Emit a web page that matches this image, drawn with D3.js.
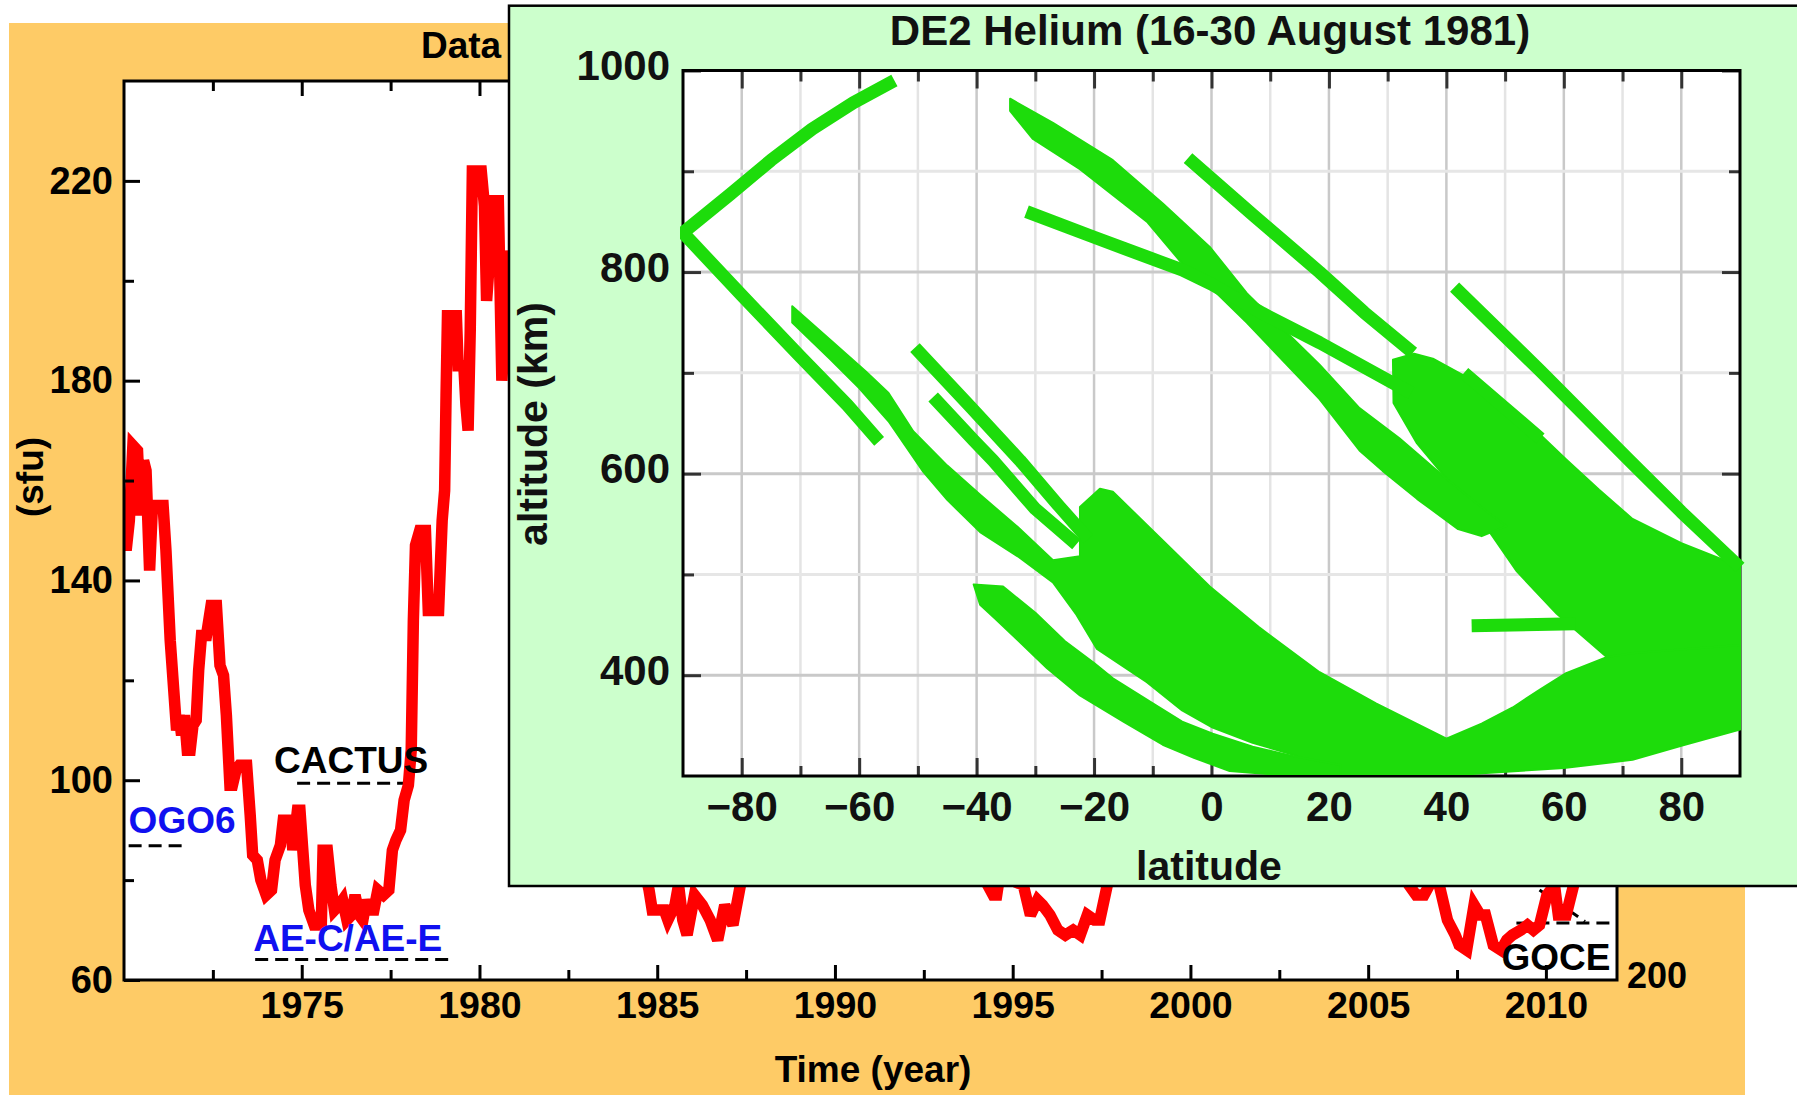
<!DOCTYPE html>
<html>
<head>
<meta charset="utf-8">
<script src="https://cdn.jsdelivr.net/npm/d3@7"></script>
<style>
  html, body { margin: 0; padding: 0; background: #ffffff; }
  svg { display: block; }
</style>
</head>
<body>
<svg id="chart" width="1797" height="1095"></svg>
<script>
// ---------------- Solar flux F10.7 (sfu) ----------------
const fluxYears = [
  1970.00,1970.06,1970.15,1970.25,1970.38,1970.46,1970.55,1970.62,1970.72,1970.80,
  1971.10,1971.18,1971.22,1971.30,1971.40,1971.48,1971.55,1971.62,1971.70,1971.78,
  1971.86,1971.94,1972.03,1972.10,1972.18,1972.32,1972.45,1972.60,1972.70,1972.80,
  1972.88,1972.93,1972.98,1973.05,1973.15,1973.25,1973.45,1973.55,1973.62,1973.75,
  1973.85,1974.00,1974.15,1974.25,1974.40,1974.48,1974.68,1974.75,1974.88,1974.95,
  1975.03,1975.10,1975.20,1975.35,1975.55,1975.60,1975.72,1975.82,1975.92,1976.05,
  1976.15,1976.27,1976.40,1976.50,1976.62,1976.72,1976.82,1976.92,1977.03,1977.14,
  1977.30,1977.45,1977.55,1977.65,1977.78,1977.88,1978.00,1978.08,1978.14,1978.20,
  1978.32,1978.48,1978.56,1978.85,1978.95,1979.02,1979.06,1979.10,1979.35,1979.40,
  1979.56,1979.62,1979.68,1979.74,1979.80,1980.05,1980.14,1980.20,1980.25,1980.35,
  1980.53,1980.58,1980.63,1980.70,1980.78,1980.90,1981.10,1981.30,1981.50,1981.70,
  1981.90,1982.10,1982.30,1982.50,1982.70,1982.90,1983.10,1983.30,1983.50,1983.70,
  1983.90,1984.10,1984.30,1984.50,1984.65,1984.77,1984.86,1985.20,1985.30,1985.50,
  1985.60,1985.72,1985.84,1986.05,1986.27,1986.49,1986.70,1986.90,1987.13,1987.34,
  1987.50,1987.80,1988.10,1988.40,1988.70,1989.00,1989.30,1989.60,1989.90,1990.20,
  1990.50,1990.80,1991.10,1991.40,1991.70,1992.00,1992.30,1992.60,1992.90,1993.20,
  1993.50,1993.80,1994.10,1994.30,1994.45,1994.55,1994.70,1994.95,1995.30,1995.50,
  1995.70,1995.84,1996.05,1996.27,1996.48,1996.70,1996.90,1997.10,1997.30,1997.45,
  1997.66,1997.90,1998.20,1998.50,1998.80,1999.10,1999.40,1999.70,2000.00,2000.30,
  2000.60,2000.90,2001.20,2001.50,2001.80,2002.10,2002.40,2002.70,2003.00,2003.30,
  2003.60,2003.90,2004.20,2004.50,2004.80,2005.10,2005.40,2005.70,2006.00,2006.15,
  2006.35,2006.57,2006.80,2007.00,2007.23,2007.45,2007.56,2007.77,2007.98,2008.15,
  2008.30,2008.52,2008.74,2008.90,2009.06,2009.30,2009.48,2009.65,2009.82,2010.03,
  2010.24,2010.35,2010.57,2010.78,2010.90,2011.00,2011.20
];
const fluxValues = [
  150,146,152,167,166,153,164,162,142,155,
  155,146,140,128,118,110,113,109,113,106,
  106,111,112,122,129,129,135,135,123,121,
  113,106,99,99,102,103,103,93,85,84,
  80,77,78,84,87,92,92,86,94,94,
  86,79,74,71,71,86,86,79,74,75,
  76,72,73,77,73,72,76,74,74,78,
  77,78,86,88,90,96,99,106,132,147,
  150,150,134,134,152,158,177,193,193,183,
  183,175,170,190,222,222,215,196,201,216,
  216,198,180,190,206,200,185,175,205,215,
  230,210,175,160,180,165,140,125,135,115,
  105,110,125,95,82,78,74,74,72,75,
  79,72,69,77,75,72,68,75,71,79,
  85,100,120,140,170,200,215,230,210,195,
  185,200,225,220,205,185,160,135,125,115,
  105,95,88,79,77,77,84,80,79,73,
  76,75,73,70,69,70,69,73,72,72,
  79,90,110,125,140,150,160,170,180,190,
  175,165,170,185,200,195,175,160,140,125,
  115,120,105,100,95,90,88,85,82,79,
  77,77,80,79,72,69,67,66,75,73,
  73,67,66,68,69,70,71,70,71,77,
  79,73,73,79,85,92,100
];

const yearTicks  = [1975, 1980, 1985, 1990, 1995, 2000, 2005, 2010];
const yearMinor  = [1972.5, 1977.5, 1982.5, 1987.5, 1992.5, 1997.5, 2002.5, 2007.5];
const fluxTicks  = [60, 100, 140, 180, 220];
const fluxMinor  = [80, 120, 160, 200];

// Satellite campaigns: flux level and time span of each dashed marker
const missionNames = ["OGO6", "CACTUS", "AE-C/AE-E", "GOCE"];
const missionStart = [1970.13, 1974.87, 1973.69, 2009.17];
const missionEnd   = [1971.75, 1978.10, 1979.13, 2011.96];
const missionFlux  = [86.9, 99.4, 64.1, 71.4];
// GOCE slanted segment (year, flux)
const goceSlant = [[2009.82, 78.0], [2011.10, 71.7]];

// ---------------- DE2 helium passes: [latitude, altitude km] ----------------
const latTicks = [-80, -60, -40, -20, 0, 20, 40, 60, 80];
const latMinor = [-70, -50, -30, -10, 10, 30, 50, 70];
const altTicks = [400, 600, 800, 1000];
const altMinor = [500, 700, 900];

const passV = [[-54,990],[-61,968],[-68,942],[-75,911],[-82,877],[-90,839],[-80,777],[-70,716],
               [-62,668],[-56.6,632]];
const passC = [[-50.5,725],[-41,666],[-32.6,613],[-26,568],[-21,535]];
const passD = [[-47.4,676],[-40.5,633],[-37.2,613],[-30,565],[-23,530]];
const passG = [[-31.5,860],[-20.2,835],[-11,815],[-4.9,802],[0,788],[8.7,759],[18.4,730],[29,696],[34,680]];
const passH = [[-4,913],[7,857],[18.4,800],[26,760],[34.3,720]];
const passI = [[41.4,785],[56,702],[71.2,613],[80,562],[90,507]];
const passJ = [[44.3,449],[62,451]];
const passK = [[43,700],[50,665],[56,635]];

const swathF = [[-34.3,972],[-27,948],[-16.8,911],[-8.3,868],[-0.3,825],[6,779],[18.4,708],[25.2,665],
                [32,635],[40,595],[47,562],[50.2,548],[46,538],[42,545],[35,575],[29.1,603],[25.2,623],
                [18.4,674],[6,750],[0.2,783],[-4.2,803],[-11,850],[-22.4,902],[-30.4,932],[-34.3,960]];
const swathSouth = [[-71.4,766],[-65,733],[-59,702],[-55,680],[-50.8,642],[-45,608],[-39.4,579],[-33,547],
                    [-27,514],[-22.4,518],[-22.4,567],[-19,585],[-16.8,582],[-8,532],[-0.3,488],[8,448],
                    [18.4,403],[28,372],[40,337],[46,352],[51.3,368],[56,386],[60.4,402],[67.3,418],
                    [72,425],[90,435],[90,346],[80,330],[71.7,316],[60,308],[46.8,303],[40,300],[18,300],
                    [14.5,320],[7,333],[0.2,348],[-5,365],[-11,393],[-19.5,426],[-23,460],[-27,492],
                    [-33,518],[-39.4,542],[-45,574],[-49.1,602],[-55,652],[-60,685],[-65,714],[-71.4,750]];
const swathNorth = [[30.9,713],[34.5,719],[37.7,714],[44,694],[49,674],[55,644],[60.4,614],[66,584],
                    [71.7,555],[80,531],[90,508],[90,430],[72,422],[67.3,418],[58.8,461],[52,503],
                    [46.8,547],[40,595],[35,630],[31,670]];
const swathLow = [[-40.5,490],[-35.5,488],[-30,462],[-25,434],[-20,412],[-16.8,397],[-10,372],[-5,354],
                  [0.2,342],[7,329],[14.5,319],[22,311],[22,300],[11.6,301],[3.1,305],[-3,318],
                  [-8.3,331],[-15,354],[-22.4,380],[-28,407],[-33,435],[-37,457],[-39.4,470]];

// ---------------- drawing ----------------
const svg = d3.select("#chart");
const FONT = "'Liberation Sans', Arial, Helvetica, sans-serif";
const ORANGE = "#fecb66", MINT = "#ccffcc", GREEN = "#1ddc0b", BLUE = "#1010f0";

svg.append("rect").attr("x", 9).attr("y", 23).attr("width", 1736).attr("height", 1072).attr("fill", ORANGE);

const main = { left: 124, right: 1617, top: 81, bottom: 980 };
const x = d3.scaleLinear().domain([1970, 2012]).range([main.left, main.right]);
const y = d3.scaleLinear().domain([60, 240]).range([main.bottom, main.top]);

svg.append("rect").attr("x", main.left).attr("y", main.top)
  .attr("width", main.right - main.left).attr("height", main.bottom - main.top).attr("fill", "#fff");

svg.append("text").attr("x", 421).attr("y", 58).text("Data")
  .attr("font-family", FONT).attr("font-weight", "bold").attr("font-size", 37).attr("fill", "#000");

function styleAxis(g, size) {
  g.select(".domain").remove();
  g.selectAll(".tick line").attr("stroke", "#000").attr("stroke-width", 3);
  g.selectAll(".tick text").attr("font-family", FONT).attr("font-weight", "bold")
    .attr("font-size", size).attr("fill", "#000");
}

svg.append("defs").append("clipPath").attr("id", "mainClip").append("rect")
  .attr("x", main.left).attr("y", main.top).attr("width", main.right - main.left).attr("height", main.bottom - main.top);

// dashed campaign markers
const dashLayer = svg.append("g");
missionNames.forEach((n, i) => {
  dashLayer.append("line")
    .attr("x1", x(missionStart[i])).attr("x2", x(missionEnd[i]))
    .attr("y1", y(missionFlux[i])).attr("y2", y(missionFlux[i]))
    .attr("stroke", "#000").attr("stroke-width", 3).attr("stroke-dasharray", "13 7");
});
dashLayer.append("path").attr("d", d3.line().x(d => x(d[0])).y(d => y(d[1]))(goceSlant))
  .attr("fill", "none").attr("stroke", "#000").attr("stroke-width", 3).attr("stroke-dasharray", "11 7");

// flux curve
const fluxData = fluxYears.map((yr, i) => [yr, fluxValues[i]]);
svg.append("path").datum(fluxData)
  .attr("clip-path", "url(#mainClip)")
  .attr("d", d3.line().x(d => x(d[0])).y(d => y(d[1])))
  .attr("fill", "none").attr("stroke", "#ff0000").attr("stroke-width", 11.5)
  .attr("stroke-linejoin", "miter").attr("stroke-miterlimit", 3);

// campaign labels
const labelColor = ["blue", "black", "blue", "black"];
const labelDx = [0, -23, -2, -15];
const labelDy = [-13, -10, -9, 47];
missionNames.forEach((n, i) => {
  svg.append("text").text(n)
    .attr("x", x(missionStart[i]) + labelDx[i]).attr("y", y(missionFlux[i]) + labelDy[i])
    .attr("font-family", FONT).attr("font-weight", "bold").attr("font-size", 37)
    .attr("fill", labelColor[i] === "blue" ? BLUE : "#000");
});

// axes
svg.append("g").attr("transform", `translate(0,${main.bottom})`)
  .call(d3.axisBottom(x).tickValues(yearTicks).tickSize(-15).tickPadding(11).tickFormat(d3.format("d")))
  .call(g => styleAxis(g, 37.5));
svg.append("g").attr("transform", `translate(0,${main.bottom})`)
  .call(d3.axisBottom(x).tickValues(yearMinor).tickSize(-10).tickFormat(""))
  .call(g => styleAxis(g, 37.5));
svg.append("g").attr("transform", `translate(0,${main.top})`)
  .call(d3.axisTop(x).tickValues(yearTicks).tickSize(-15).tickFormat(""))
  .call(g => styleAxis(g, 37.5));
svg.append("g").attr("transform", `translate(0,${main.top})`)
  .call(d3.axisTop(x).tickValues(yearMinor).tickSize(-10).tickFormat(""))
  .call(g => styleAxis(g, 37.5));
svg.append("g").attr("transform", `translate(${main.left},0)`)
  .call(d3.axisLeft(y).tickValues(fluxTicks).tickSize(-16).tickPadding(11))
  .call(g => styleAxis(g, 38));
svg.append("g").attr("transform", `translate(${main.left},0)`)
  .call(d3.axisLeft(y).tickValues(fluxMinor).tickSize(-10).tickFormat(""))
  .call(g => styleAxis(g, 38));

svg.append("rect").attr("x", main.left).attr("y", main.top)
  .attr("width", main.right - main.left).attr("height", main.bottom - main.top)
  .attr("fill", "none").attr("stroke", "#000").attr("stroke-width", 3);

svg.append("text").text("(sfu)")
  .attr("transform", "translate(30,477) rotate(-90)").attr("dy", "0.35em").attr("text-anchor", "middle")
  .attr("font-family", FONT).attr("font-weight", "bold").attr("font-size", 37).attr("fill", "#000");
svg.append("text").text("Time (year)")
  .attr("x", 873).attr("y", 1082).attr("text-anchor", "middle")
  .attr("font-family", FONT).attr("font-weight", "bold").attr("font-size", 37).attr("fill", "#000");
svg.append("text").text("200")
  .attr("x", 1627).attr("y", 988)
  .attr("font-family", FONT).attr("font-weight", "bold").attr("font-size", 36).attr("fill", "#000");

// ---------------- DE2 helium inset ----------------
const ins = { left: 683, right: 1740, top: 70.5, bottom: 776 };
const lx = d3.scaleLinear().domain([-90, 90]).range([ins.left, ins.right]);
const ly = d3.scaleLinear().domain([300, 1000]).range([ins.bottom, ins.top]);

svg.append("rect").attr("x", 509).attr("y", 5.7).attr("width", 1320).attr("height", 880.3)
  .attr("fill", MINT).attr("stroke", "#000").attr("stroke-width", 2.5);
svg.append("rect").attr("x", ins.left).attr("y", ins.top)
  .attr("width", ins.right - ins.left).attr("height", ins.bottom - ins.top).attr("fill", "#fff");

// grid
const grid = svg.append("g");
latMinor.forEach(v => grid.append("line").attr("x1", lx(v)).attr("x2", lx(v))
  .attr("y1", ins.top).attr("y2", ins.bottom).attr("stroke", "#e4e4e4").attr("stroke-width", 2.5));
latTicks.forEach(v => grid.append("line").attr("x1", lx(v)).attr("x2", lx(v))
  .attr("y1", ins.top).attr("y2", ins.bottom).attr("stroke", "#c9c9c9").attr("stroke-width", 2.5));
altMinor.forEach(v => grid.append("line").attr("x1", ins.left).attr("x2", ins.right)
  .attr("y1", ly(v)).attr("y2", ly(v)).attr("stroke", "#e6e6e6").attr("stroke-width", 3));
altTicks.filter(v => v < 1000).forEach(v => grid.append("line").attr("x1", ins.left).attr("x2", ins.right)
  .attr("y1", ly(v)).attr("y2", ly(v)).attr("stroke", "#c9c9c9").attr("stroke-width", 3));

function styleInset(g) {
  g.select(".domain").remove();
  g.selectAll(".tick line").attr("stroke", "#333").attr("stroke-width", 3);
  g.selectAll(".tick text").attr("font-family", FONT).attr("font-weight", "bold")
    .attr("font-size", 42).attr("fill", "#111");
}
svg.append("g").attr("transform", `translate(0,${ins.bottom})`)
  .call(d3.axisBottom(lx).tickValues(latTicks).tickSize(-18).tickPadding(15)).call(styleInset);
svg.append("g").attr("transform", `translate(0,${ins.bottom})`)
  .call(d3.axisBottom(lx).tickValues(latMinor).tickSize(-10).tickFormat("")).call(styleInset);
svg.append("g").attr("transform", `translate(0,${ins.top})`)
  .call(d3.axisTop(lx).tickValues(latTicks).tickSize(-18).tickFormat("")).call(styleInset);
svg.append("g").attr("transform", `translate(0,${ins.top})`)
  .call(d3.axisTop(lx).tickValues(latMinor).tickSize(-11).tickFormat("")).call(styleInset);
svg.append("g").attr("transform", `translate(${ins.left},0)`)
  .call(d3.axisLeft(ly).tickValues(altTicks).tickSize(-18).tickPadding(13).tickFormat(d3.format("d")))
  .call(styleInset)
  .call(g => g.selectAll(".tick text").attr("dy", "0.22em"));
svg.append("g").attr("transform", `translate(${ins.left},0)`)
  .call(d3.axisLeft(ly).tickValues(altMinor).tickSize(-11).tickFormat("")).call(styleInset);
svg.append("g").attr("transform", `translate(${ins.right},0)`)
  .call(d3.axisRight(ly).tickValues(altTicks).tickSize(-18).tickFormat("")).call(styleInset);
svg.append("g").attr("transform", `translate(${ins.right},0)`)
  .call(d3.axisRight(ly).tickValues(altMinor).tickSize(-11).tickFormat("")).call(styleInset);

svg.append("rect").attr("x", ins.left).attr("y", ins.top)
  .attr("width", ins.right - ins.left).attr("height", ins.bottom - ins.top)
  .attr("fill", "none").attr("stroke", "#000").attr("stroke-width", 3);

// helium passes, drawn over the frame edges
svg.select("defs").append("clipPath").attr("id", "insetClip").append("rect")
  .attr("x", ins.left - 3).attr("y", ins.top).attr("width", ins.right - ins.left + 8).attr("height", ins.bottom - ins.top - 1);
const passLayer = svg.append("g").attr("clip-path", "url(#insetClip)");
const area = d3.line().x(d => lx(d[0])).y(d => ly(d[1])).curve(d3.curveLinearClosed);
const track = d3.line().x(d => lx(d[0])).y(d => ly(d[1]));
[swathSouth, swathNorth, swathLow, swathF].forEach(poly => {
  passLayer.append("path").attr("d", area(poly))
    .attr("fill", GREEN).attr("stroke", GREEN).attr("stroke-width", 2).attr("stroke-linejoin", "round");
});
[passV, passC, passD, passG, passH, passI, passJ, passK].forEach(p => {
  passLayer.append("path").attr("d", track(p))
    .attr("fill", "none").attr("stroke", GREEN).attr("stroke-width", 13)
    .attr("stroke-linejoin", "round").attr("stroke-linecap", "butt");
});

// inset titles
svg.append("text").text("DE2 Helium (16-30 August 1981)")
  .attr("x", 1210).attr("y", 45).attr("text-anchor", "middle")
  .attr("font-family", FONT).attr("font-weight", "bold").attr("font-size", 42).attr("fill", "#111");
svg.append("text").text("latitude")
  .attr("x", 1209).attr("y", 880).attr("text-anchor", "middle")
  .attr("font-family", FONT).attr("font-weight", "bold").attr("font-size", 41).attr("fill", "#111");
svg.append("text").text("altitude (km)")
  .attr("transform", "translate(533,424) rotate(-90)").attr("dy", "0.35em").attr("text-anchor", "middle")
  .attr("font-family", FONT).attr("font-weight", "bold").attr("font-size", 41).attr("fill", "#111");
</script>
</body>
</html>
